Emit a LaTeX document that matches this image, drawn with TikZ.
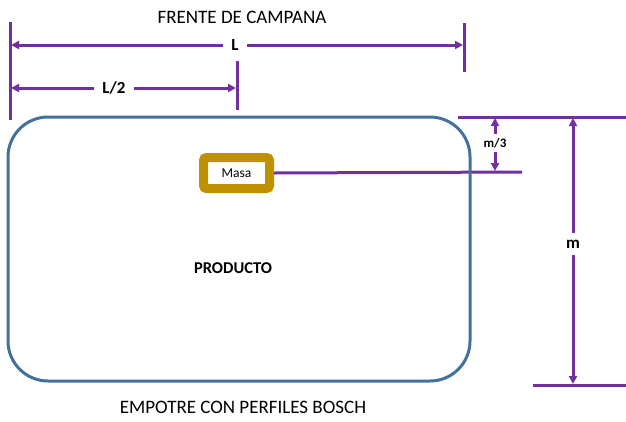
\documentclass[tikz,border=0pt]{standalone}
\usepackage{fontspec}
\setmainfont{Carlito}
\usetikzlibrary{arrows.meta}

\definecolor{cota}{HTML}{7030A0}
\definecolor{borde}{HTML}{41719C}
\definecolor{oro}{HTML}{BF9000}

\tikzset{
  linea/.style={draw=cota, line width=3pt},
  flecha/.style={linea, {Triangle[length=8pt,width=8pt]}-{Triangle[length=8pt,width=8pt]}},
  etiq/.style={fill=white, inner sep=8pt, font=\fontsize{17}{20}\selectfont\bfseries},
  titulo/.style={font=\fontsize{19}{22}\selectfont}
}

\begin{document}
\begin{tikzpicture}[x=1pt,y=-1pt]
\useasboundingbox (0,0) rectangle (626,421);

\node[titulo] (frente) at (242,17) {FRENTE DE CAMPANA};
\node[titulo] (empotre) at (243,407) {EMPOTRE CON PERFILES BOSCH};

\node[draw=oro, line width=9pt, rounded corners=3pt, minimum width=66pt, minimum height=31pt, inner sep=0pt, font=\fontsize{13.5}{15}\selectfont] (masa) at (236.5,173) {Masa};

% lineas de referencia
\coordinate (a1) at (10,22);   \coordinate (a2) at (10,120);
\coordinate (b1) at (464,23);  \coordinate (b2) at (464,72);
\coordinate (c1) at (237,61);  \coordinate (c2) at (237,110);
\coordinate (d1) at (458,117); \coordinate (d2) at (626,117);
\coordinate (e1) at (533,385); \coordinate (e2) at (626,385);
\coordinate (f2) at (522,172);
\draw[linea] (a1) -- (a2);
\draw[linea] (b1) -- (b2);
\draw[linea] (c1) -- (c2);
\draw[linea] (d1) -- (d2);
\draw[linea] (e1) -- (e2);
\draw[linea] (masa.east) -- (f2);

\node[draw=borde, line width=3pt, rounded corners=40pt, minimum width=462pt, minimum height=264pt] (prod) at (239,249) {};
\node[font=\fontsize{16.5}{19}\selectfont\bfseries] (producto) at (233,268) {PRODUCTO};

% cotas
\coordinate (L1) at (11,45);   \coordinate (L2) at (463,45);
\coordinate (M1) at (11,88);   \coordinate (M2) at (236,88);
\coordinate (n1) at (495,118); \coordinate (n2) at (495,171);
\coordinate (m1) at (573,118); \coordinate (m2) at (573,384);
\draw[flecha] (L1) -- (L2);
\draw[flecha] (M1) -- (M2);
\draw[flecha] (n1) -- (n2);
\draw[flecha] (m1) -- (m2);
\node[etiq] (lL) at (235,45) {L};
\node[etiq] (lL2) at (114,88) {L/2};
\node[etiq, inner sep=4pt, font=\fontsize{13}{15}\selectfont\bfseries] (lm3) at (495,143) {m/3};
\node[etiq, inner sep=7pt] (lm) at (573,244) {m};
\end{tikzpicture}
\end{document}
